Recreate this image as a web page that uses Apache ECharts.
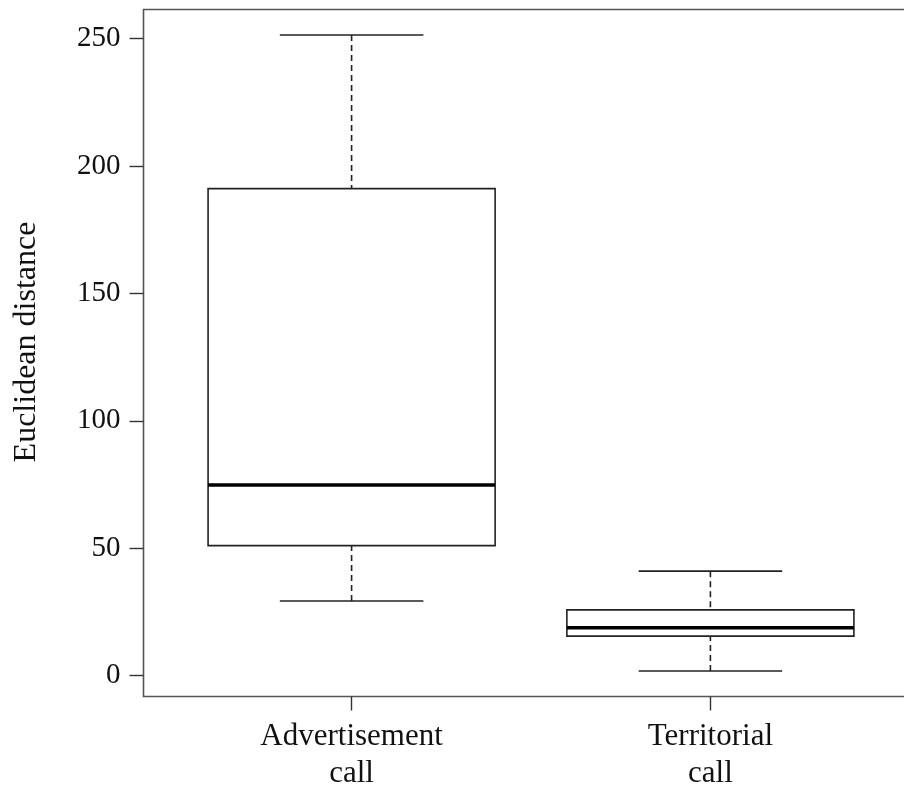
<!DOCTYPE html>
<html>
<head>
<meta charset="utf-8">
<script src="https://cdn.jsdelivr.net/npm/echarts@6/dist/echarts.min.js"></script>
<style>
  html, body { margin: 0; padding: 0; background: #fff; }
  #main { width: 904px; height: 790px; }
</style>
</head>
<body>
<div id="main"></div>
<script>
// categories and box statistics (min, q1, median, q3, max)
var categories = ['Advertisement\ncall', 'Territorial\ncall'];
var whiskerLow = [29.3, 1.8];
var boxLow = [51.0, 15.5];
var medians = [74.8, 18.8];
var boxHigh = [191.1, 25.8];
var whiskerHigh = [251.4, 41.0];
var yTicks = [0, 50, 100, 150, 200, 250];

var boxData = [];
for (var i = 0; i < categories.length; i++) {
    boxData.push([i + 1, whiskerLow[i], boxLow[i], medians[i], boxHigh[i], whiskerHigh[i]]);
}

var chart = echarts.init(document.getElementById('main'));

function renderBox(params, api) {
    var x = api.value(0);
    var pLow = api.coord([x, api.value(1)]);
    var pQ1 = api.coord([x, api.value(2)]);
    var pMed = api.coord([x, api.value(3)]);
    var pQ3 = api.coord([x, api.value(4)]);
    var pHigh = api.coord([x, api.value(5)]);
    var unit = api.size([1, 0])[0];
    var half = unit * 0.4;
    var cap = unit * 0.2;
    var cx = pMed[0];
    var line = { stroke: '#222', lineWidth: 1.6, fill: null };
    var dashed = { stroke: '#222', lineWidth: 1.6, lineDash: [6, 4], fill: null };
    return {
        type: 'group',
        children: [
            { type: 'line', shape: { x1: cx, y1: pHigh[1], x2: cx, y2: pQ3[1] }, style: dashed },
            { type: 'line', shape: { x1: cx, y1: pLow[1], x2: cx, y2: pQ1[1] }, style: dashed },
            { type: 'line', shape: { x1: cx - cap, y1: pHigh[1], x2: cx + cap, y2: pHigh[1] }, style: line },
            { type: 'line', shape: { x1: cx - cap, y1: pLow[1], x2: cx + cap, y2: pLow[1] }, style: line },
            { type: 'rect', shape: { x: cx - half, y: pQ3[1], width: half * 2, height: pQ1[1] - pQ3[1] },
              style: { stroke: '#222', lineWidth: 1.6, fill: '#fff' } },
            { type: 'line', shape: { x1: cx - half, y1: pMed[1], x2: cx + half, y2: pMed[1] },
              style: { stroke: '#000', lineWidth: 3.4 } }
        ]
    };
}

var option = {
    backgroundColor: '#fff',
    animation: false,
    grid: {
        left: 143.5,
        top: 9.5,
        width: 775,
        height: 687,
        outerBoundsMode: 'none',
        containLabel: false,
        show: true,
        borderColor: '#555',
        borderWidth: 1.6,
        backgroundColor: 'transparent'
    },
    graphic: [{
        type: 'text',
        x: 27,
        y: 342,
        rotation: Math.PI / 2,
        style: {
            text: 'Euclidean distance',
            fontFamily: 'Liberation Serif',
            fontSize: 32,
            fill: '#111',
            align: 'center',
            verticalAlign: 'middle'
        }
    }],
    xAxis: {
        type: 'value',
        min: 0.42,
        max: 2.58,
        splitLine: { show: false },
        axisLine: { show: false, onZero: false },
        axisTick: {
            show: true,
            length: 14,
            customValues: [1, 2],
            lineStyle: { color: '#333', width: 1.4 }
        },
        axisLabel: {
            customValues: [1, 2],
            margin: 22,
            lineHeight: 37,
            fontFamily: 'Liberation Serif',
            fontSize: 31,
            color: '#111',
            formatter: function (v) { return categories[Math.round(v) - 1]; }
        }
    },
    yAxis: {
        type: 'value',
        min: -8.2,
        max: 261.4,
        splitLine: { show: false },
        axisLine: { show: false, onZero: false },
        axisTick: {
            show: true,
            length: 14,
            customValues: yTicks,
            lineStyle: { color: '#333', width: 1.4 }
        },
        axisLabel: {
            customValues: yTicks,
            margin: 23,
            fontFamily: 'Liberation Serif',
            fontSize: 29,
            color: '#111'
        }
    },
    series: [{
        type: 'custom',
        renderItem: renderBox,
        encode: { x: 0, y: [1, 2, 3, 4, 5] },
        data: boxData,
        clip: false
    }]
};

chart.setOption(option);
</script>
</body>
</html>
